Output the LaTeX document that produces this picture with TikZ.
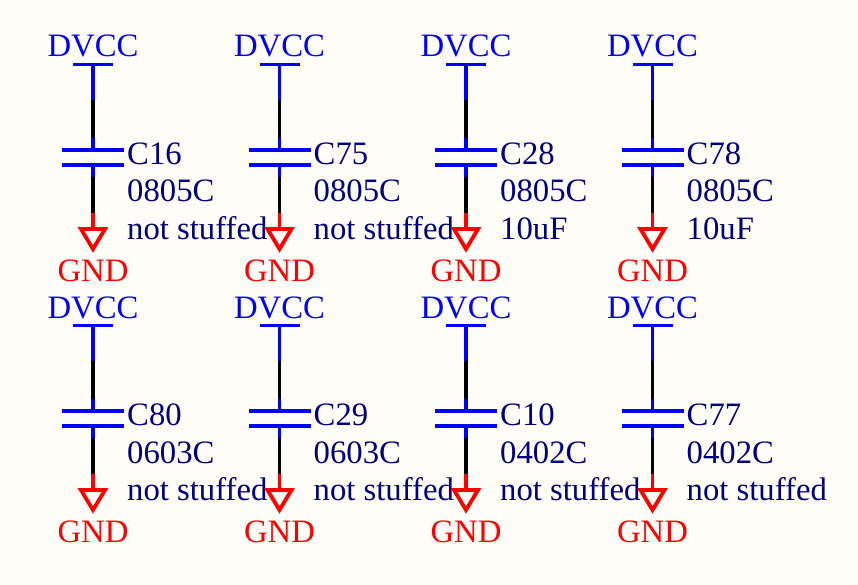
\documentclass[tikz,border=0pt]{standalone}
\usepackage{fontspec}
\setmainfont{Liberation Serif}
\definecolor{paper}{HTML}{FFFDF8}
\definecolor{netblue}{HTML}{0000FF}
\definecolor{partnavy}{HTML}{000080}
\definecolor{gndred}{HTML}{FF0000}
\tikzset{
    netlabel/.style={anchor=base,inner sep=0pt,font=\fontsize{32.7}{36}\selectfont},
    partlabel/.style={anchor=base west,inner sep=0pt,text=partnavy,font=\fontsize{32.7}{36}\selectfont},
    wire/.style={line width=3.8pt},
}
\begin{document}
\begin{tikzpicture}[x=1pt,y=-1pt]
    \fill[paper] (0,0) rectangle (858,585);
    \useasboundingbox (0,0) rectangle (858,585);
    \foreach \cx/\ry/\ref/\pack/\val in {
        93/0/C16/0805C/not stuffed, 279.5/0/C75/0805C/not stuffed,
        466/0/C28/0805C/10uF, 652.5/0/C78/0805C/10uF,
        93/261/C80/0603C/not stuffed, 279.5/261/C29/0603C/not stuffed,
        466/261/C10/0402C/not stuffed, 652.5/261/C77/0402C/not stuffed} {
        \begin{scope}[yshift=-\ry pt]
            % power symbol
            \node[netlabel,text=netblue] (dvcc\ref) at (\cx,57) {DVCC};
            \coordinate (top\ref) at (\cx,64.5);
            \coordinate (topl\ref) at (\cx-20,64.5);
            \coordinate (topr\ref) at (\cx+20,64.5);
            \coordinate (pina\ref) at (\cx,100);
            \coordinate (pinb\ref) at (\cx,138);
            % plates
            \coordinate (upper\ref) at (\cx,150);
            \coordinate (upperl\ref) at (\cx-31,150);
            \coordinate (upperr\ref) at (\cx+31,150);
            \coordinate (lower\ref) at (\cx,165);
            \coordinate (lowerl\ref) at (\cx-31,165);
            \coordinate (lowerr\ref) at (\cx+31,165);
            \coordinate (pinc\ref) at (\cx,177);
            \coordinate (pind\ref) at (\cx,213);
            % ground symbol
            \coordinate (gnd\ref) at (\cx,229);
            \coordinate (gndl\ref) at (\cx-12,229);
            \coordinate (gndr\ref) at (\cx+12,229);
            \coordinate (tip\ref) at (\cx,249);
            \node[netlabel,text=gndred] (gndtext\ref) at (\cx,281) {GND};
            \node[partlabel] (ref\ref) at (\cx+34,164.5) {\ref};
            \node[partlabel] (pack\ref) at (\cx+34,202) {\pack};
            \node[partlabel] (val\ref) at (\cx+34,239.5) {\val};
            \draw[wire,netblue] (topl\ref) -- (topr\ref);
            \draw[wire,netblue] (top\ref) -- (pina\ref);
            \draw[wire,black] (pina\ref) -- (pinb\ref);
            \draw[wire,netblue] (pinb\ref) -- (upper\ref);
            \draw[wire,netblue] (upperl\ref) -- (upperr\ref);
            \draw[wire,netblue] (lowerl\ref) -- (lowerr\ref);
            \draw[wire,netblue] (lower\ref) -- (pinc\ref);
            \draw[wire,black] (pinc\ref) -- (pind\ref);
            \draw[wire,gndred] (pind\ref) -- (gnd\ref);
            \draw[wire,gndred,line join=miter] (gndl\ref) -- (gndr\ref) -- (tip\ref) -- cycle;
        \end{scope}
    }
\end{tikzpicture}
\end{document}
